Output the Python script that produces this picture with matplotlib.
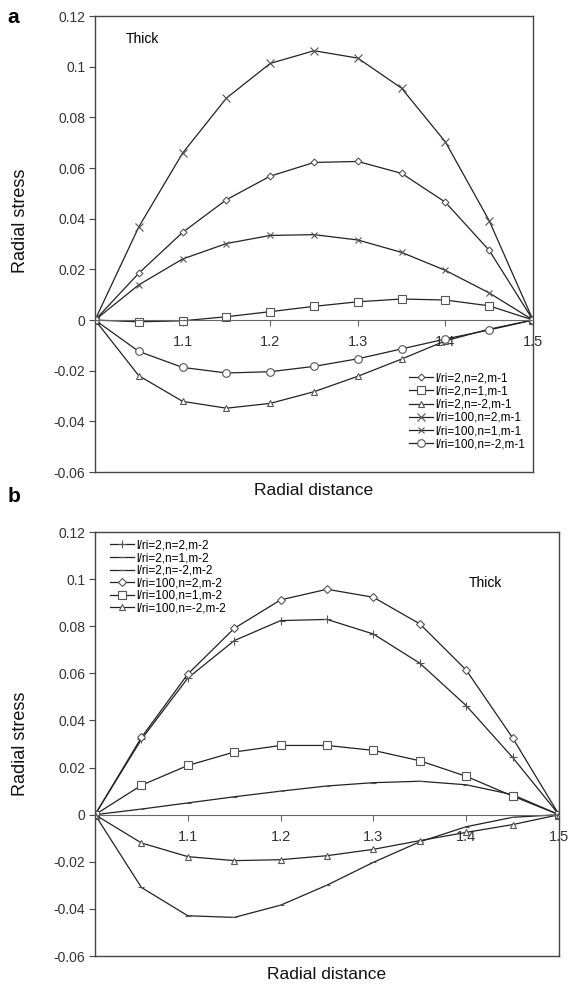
import numpy as np
import matplotlib
matplotlib.use("Agg")
import matplotlib.pyplot as plt

plt.rcParams['font.family'] = ['Liberation Sans', 'DejaVu Sans']

# radial positions (r / ri)
r = [1.0, 1.05, 1.1, 1.15, 1.2, 1.25, 1.3, 1.35, 1.4, 1.45, 1.5]

# panel a (m-1)
a_labels = ["l/ri=2,n=2,m-1", "l/ri=2,n=1,m-1", "l/ri=2,n=-2,m-1",
            "l/ri=100,n=2,m-1", "l/ri=100,n=1,m-1", "l/ri=100,n=-2,m-1"]
a_l2_n2 = [0, 0.0185, 0.0346, 0.0475, 0.0568, 0.0622, 0.0626, 0.0579, 0.0465, 0.0275, 0]
a_l2_n1 = [0, -0.0007, -0.0003, 0.0013, 0.0033, 0.0054, 0.0072, 0.0083, 0.0079, 0.0056, 0]
a_l2_nm2 = [0, -0.0220, -0.0321, -0.0348, -0.0329, -0.0283, -0.0222, -0.0154, -0.0082, -0.0036, 0]
a_l100_n2 = [0, 0.0368, 0.0659, 0.0876, 0.1013, 0.1063, 0.1034, 0.0915, 0.0703, 0.0392, 0]
a_l100_n1 = [0, 0.0139, 0.0241, 0.0302, 0.0334, 0.0337, 0.0316, 0.0267, 0.0196, 0.0107, 0]
a_l100_nm2 = [0, -0.0124, -0.0187, -0.0209, -0.0204, -0.0183, -0.0153, -0.0114, -0.0075, -0.0039, 0]

# panel b (m-2)
b_labels = ["l/ri=2,n=2,m-2", "l/ri=2,n=1,m-2", "l/ri=2,n=-2,m-2",
            "l/ri=100,n=2,m-2", "l/ri=100,n=1,m-2", "l/ri=100,n=-2,m-2"]
b_l2_n2 = [0, 0.0320, 0.0580, 0.0739, 0.0824, 0.0829, 0.0767, 0.0643, 0.0463, 0.0243, 0]
b_l2_n1 = [0, 0.0024, 0.0050, 0.0076, 0.0100, 0.0122, 0.0136, 0.0142, 0.0127, 0.0085, 0]
b_l2_nm2 = [0, -0.0309, -0.0429, -0.0436, -0.0384, -0.0299, -0.0202, -0.0115, -0.0051, -0.0011, 0]
b_l100_n2 = [0, 0.0328, 0.0597, 0.0791, 0.0912, 0.0957, 0.0923, 0.0810, 0.0614, 0.0326, 0]
b_l100_n1 = [0, 0.0125, 0.0209, 0.0266, 0.0294, 0.0294, 0.0273, 0.0229, 0.0163, 0.0079, 0]
b_l100_nm2 = [0, -0.0120, -0.0178, -0.0195, -0.0191, -0.0174, -0.0147, -0.0110, -0.0075, -0.0042, 0]

x_ticks = [1.1, 1.2, 1.3, 1.4, 1.5]
y_ticks = [-0.06, -0.04, -0.02, 0, 0.02, 0.04, 0.06, 0.08, 0.1, 0.12]

LINE = '#222222'
EDGE = '#555555'

a_markers = [('D', 3.5), ('s', 5.5), ('^', 4.5), ('x', 6), ('x', 4), ('o', 5.5)]
b_markers = [('+', 6), ('_', 4), ('_', 5), ('D', 4), ('s', 6), ('^', 5)]

fig = plt.figure(figsize=(5.68, 9.9), dpi=100)
ax_a = fig.add_axes([0.1673, 0.5232, 0.7711, 0.4606])
ax_b = fig.add_axes([0.1673, 0.0343, 0.8169, 0.4283])


def style_axes(ax):
    ax.set_xlim(1.0, 1.5)
    ax.set_ylim(-0.06, 0.12)
    ax.set_yticks(y_ticks)
    ax.set_yticklabels(["-0.06", "-0.04", "-0.02", "0", "0.02", "0.04",
                        "0.06", "0.08", "0.1", "0.12"])
    ax.set_xticks(x_ticks)
    ax.set_xticklabels(["1.1", "1.2", "1.3", "1.4", "1.5"])
    for s in ax.spines.values():
        s.set_color('#444444')
        s.set_linewidth(1.0)
    ax.spines['bottom'].set_position(('data', 0))
    ax.spines['bottom'].set_color('#666666')
    ax.spines['bottom'].set_linewidth(0.8)
    # closing bottom line of the box
    ax.plot([0, 1], [0, 0], transform=ax.transAxes, color='#444444',
            lw=1.0, clip_on=False, zorder=5)
    ax.tick_params(axis='y', direction='out', length=4, width=0.8,
                   colors='#444444', labelsize=10, labelcolor='#333333', pad=3)
    ax.tick_params(axis='x', direction='out', length=4, width=0.8,
                   colors='#666666', labelsize=10.5, labelcolor='#333333', pad=7)
    ax.set_ylabel("Radial stress", fontsize=13, color='#111111')
    ax.set_xlabel("Radial distance", fontsize=12.5, color='#111111')


def draw(ax, series, labels, markers):
    for y, lab, (m, ms) in zip(series, labels, markers):
        ax.plot(r, y, color=LINE, lw=0.9, marker=m, ms=ms,
                mfc='white', mec=EDGE, mew=0.8, label=lab)


draw(ax_a, [a_l2_n2, a_l2_n1, a_l2_nm2, a_l100_n2, a_l100_n1, a_l100_nm2],
     a_labels, a_markers)
style_axes(ax_a)
ax_a.yaxis.set_label_coords(-0.15, 0.55)
ax_a.xaxis.set_label_coords(0.5, -0.025)
ax_a.text(0.07, 0.95, "Thick", transform=ax_a.transAxes, fontsize=10,
          va='center', ha='left')
ax_a.legend(loc='lower right', bbox_to_anchor=(0.985, 0.045), fontsize=8.5,
            frameon=True, facecolor='white', edgecolor='none', framealpha=1,
            handlelength=2.0, handletextpad=0.2, labelspacing=0.1,
            borderpad=0.1, borderaxespad=0)

draw(ax_b, [b_l2_n2, b_l2_n1, b_l2_nm2, b_l100_n2, b_l100_n1, b_l100_nm2],
     b_labels, b_markers)
style_axes(ax_b)
ax_b.yaxis.set_label_coords(-0.142, 0.5)
ax_b.xaxis.set_label_coords(0.5, -0.025)
ax_b.text(0.805, 0.88, "Thick", transform=ax_b.transAxes, fontsize=10,
          va='center', ha='left')
ax_b.legend(loc='upper left', bbox_to_anchor=(0.03, 0.985), fontsize=8.5,
            frameon=False, handlelength=2.0, handletextpad=0.2,
            labelspacing=0.05, borderpad=0.1, borderaxespad=0)

fig.text(0.013, 0.982, "a", fontsize=15, fontweight='bold', va='center')
fig.text(0.013, 0.498, "b", fontsize=15, fontweight='bold', va='center')

fig.savefig("out.png", dpi=100, facecolor='white')
